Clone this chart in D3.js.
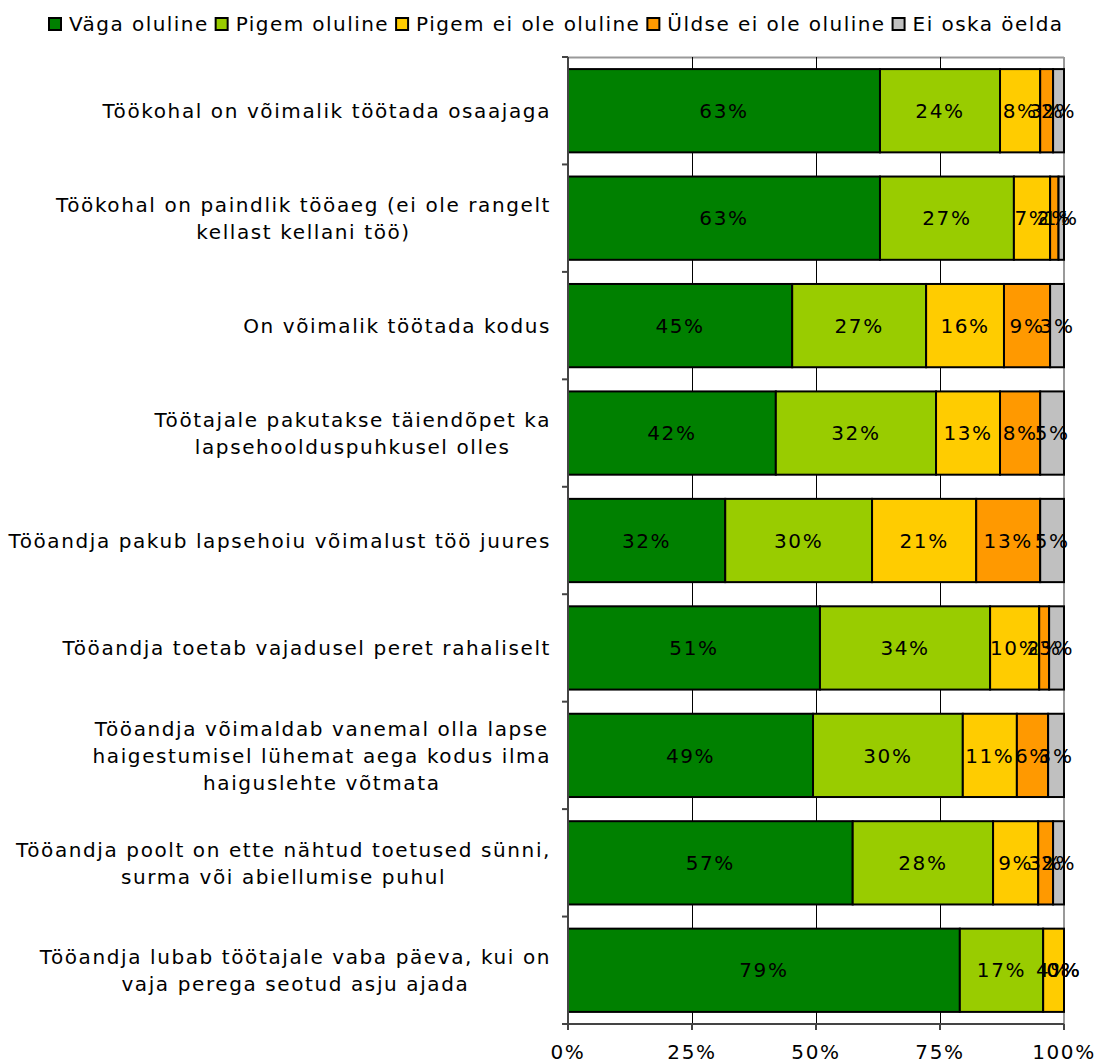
<!DOCTYPE html>
<html>
<head>
<meta charset="utf-8">
<script src="https://cdn.jsdelivr.net/npm/d3@7"></script>
<style>
  body { margin: 0; background: #fff; }
  svg { display: block; font-family: "DejaVu Sans", Verdana, sans-serif; }
  svg text { letter-spacing: 1.6px; }
  svg .legend text { letter-spacing: 1.45px; }
</style>
</head>
<body>
<svg id="chart" width="1099" height="1064"></svg>
<script>
// ------------------------------------------------------------
// data
// ------------------------------------------------------------
const categories = [
  ["Töökohal on võimalik töötada osaajaga"],
  ["Töökohal on paindlik tööaeg (ei ole rangelt", "kellast kellani töö)"],
  ["On võimalik töötada kodus"],
  ["Töötajale pakutakse täiendõpet ka", "lapsehoolduspuhkusel olles"],
  ["Tööandja pakub lapsehoiu võimalust töö juures"],
  ["Tööandja toetab vajadusel peret rahaliselt"],
  ["Tööandja võimaldab vanemal olla lapse", "haigestumisel lühemat aega kodus ilma", "haiguslehte võtmata"],
  ["Tööandja poolt on ette nähtud toetused sünni,", "surma või abiellumise puhul"],
  ["Tööandja lubab töötajale vaba päeva, kui on", "vaja perega seotud asju ajada"]
];
const seriesNames = ["Väga oluline", "Pigem oluline", "Pigem ei ole oluline", "Üldse ei ole oluline", "Ei oska öelda"];
const seriesColors = ["#008000", "#99CC00", "#FFCC00", "#FF9900", "#C0C0C0"];

// shares in %, one array per series (row order as categories)
const vagaOluline   = [62.9, 62.9, 45.2, 41.9, 31.7, 50.8, 49.4, 57.4, 79.0];
const pigemOluline  = [24.2, 27.0, 27.0, 32.3, 29.6, 34.3, 30.2, 28.3, 16.8];
const pigemEiOle    = [ 8.1,  7.3, 15.7, 12.9, 21.0,  9.9, 10.9,  9.1,  4.2];
const uldseEiOle    = [ 2.6,  1.7,  9.3,  8.1, 12.9,  2.0,  6.3,  3.0,  0.0];
const eiOska        = [ 2.2,  1.1,  2.8,  4.8,  4.8,  3.0,  3.2,  2.2,  0.0];
const seriesValues = [vagaOluline, pigemOluline, pigemEiOle, uldseEiOle, eiOska];

const xTicks = [0, 0.25, 0.5, 0.75, 1];

// ------------------------------------------------------------
// layout
// ------------------------------------------------------------
const svg = d3.select("#chart");
const plot = { left: 568, right: 1064, top: 57, bottom: 1024 };
const fontSize = 20;

const x = d3.scaleLinear().domain([0, 1]).range([plot.left, plot.right]);
const y = d3.scaleBand()
  .domain(d3.range(categories.length))
  .range([plot.top, plot.bottom])
  .paddingInner(0.225).paddingOuter(0.1125);

// rows -> stacked
const rows = categories.map((c, i) => {
  const r = { idx: i };
  seriesNames.forEach((s, k) => { r[s] = seriesValues[k][i] / 100; });
  return r;
});
const stacked = d3.stack().keys(seriesNames)(rows);

// plot frame (grey top & right)
svg.append("line").attr("x1", plot.left).attr("x2", plot.right)
  .attr("y1", plot.top + 0.5).attr("y2", plot.top + 0.5)
  .attr("stroke", "#999").attr("stroke-width", 2);
svg.append("line").attr("x1", plot.right).attr("x2", plot.right)
  .attr("y1", plot.top).attr("y2", plot.bottom)
  .attr("stroke", "#999").attr("stroke-width", 2);

// gridlines
svg.selectAll(".grid").data(xTicks.slice(1, -1)).join("line")
  .attr("class", "grid")
  .attr("x1", d => Math.round(x(d)) + 0.5).attr("x2", d => Math.round(x(d)) + 0.5)
  .attr("y1", plot.top).attr("y2", plot.bottom)
  .attr("stroke", "#000").attr("stroke-width", 1);

// bars
const layer = svg.selectAll("g.layer").data(stacked).join("g")
  .attr("class", "layer")
  .attr("fill", (d, i) => seriesColors[i]);

layer.selectAll("rect").data(d => d).join("rect")
  .attr("x", d => x(d[0]))
  .attr("y", d => y(d.data.idx))
  .attr("width", d => x(d[1]) - x(d[0]))
  .attr("height", y.bandwidth())
  .attr("stroke", "#000").attr("stroke-width", 2);

// segment labels
const pct = d3.format(".0%");
svg.selectAll("g.lbl").data(stacked).join("g")
  .attr("class", "lbl")
  .selectAll("text").data(d => d).join("text")
  .attr("x", d => (x(d[0]) + x(d[1])) / 2)
  .attr("y", d => y(d.data.idx) + y.bandwidth() / 2)
  .attr("dy", "0.36em")
  .attr("text-anchor", "middle")
  .style("font-size", fontSize + "px").style("fill", "#000")
  .text(d => pct(d[1] - d[0]));

// left axis
svg.append("line").attr("x1", plot.left).attr("x2", plot.left)
  .attr("y1", plot.top).attr("y2", plot.bottom + 5)
  .attr("stroke", "#444").attr("stroke-width", 2);
const bounds = d3.range(categories.length + 1).map(i => plot.top + i * (plot.bottom - plot.top) / categories.length);
svg.selectAll(".ytick").data(bounds).join("line")
  .attr("class", "ytick")
  .attr("x1", plot.left - 6).attr("x2", plot.left)
  .attr("y1", d => d).attr("y2", d => d)
  .attr("stroke", "#444").attr("stroke-width", 2);

// category labels (right aligned block, lines centred)
const labelRight = 551;
const lineH = 27;
categories.forEach((lines, i) => {
  const g = svg.append("g");
  const cy = y(i) + y.bandwidth() / 2;
  const texts = lines.map((t, j) => g.append("text")
    .attr("y", cy + (j - (lines.length - 1) / 2) * lineH)
    .attr("dy", "0.36em")
    .attr("text-anchor", "middle")
    .style("font-size", fontSize + "px").style("fill", "#000")
    .text(t));
  const maxW = d3.max(texts, t => t.node().getComputedTextLength());
  texts.forEach(t => t.attr("x", labelRight - maxW / 2));
});

// bottom axis
svg.append("line").attr("x1", plot.left - 6).attr("x2", plot.right)
  .attr("y1", plot.bottom).attr("y2", plot.bottom)
  .attr("stroke", "#444").attr("stroke-width", 2);
svg.selectAll(".xtick").data(xTicks).join("line")
  .attr("class", "xtick")
  .attr("x1", d => x(d)).attr("x2", d => x(d))
  .attr("y1", plot.bottom).attr("y2", plot.bottom + 6)
  .attr("stroke", "#444").attr("stroke-width", 2);
svg.selectAll(".xlbl").data(xTicks).join("text")
  .attr("class", "xlbl")
  .attr("x", d => x(d)).attr("y", 1052)
  .attr("dy", "0.36em")
  .attr("text-anchor", "middle")
  .style("font-size", fontSize + "px").style("fill", "#000")
  .text(d => pct(d));

// legend
const legend = svg.append("g").attr("class", "legend");
let lx = 49;
const ly = 24;
seriesNames.forEach((s, i) => {
  legend.append("rect")
    .attr("x", lx).attr("y", ly - 6).attr("width", 12).attr("height", 12)
    .attr("fill", seriesColors[i]).attr("stroke", "#000").attr("stroke-width", 2);
  const t = legend.append("text")
    .attr("x", lx + 20).attr("y", ly).attr("dy", "0.36em")
    .style("font-size", fontSize + "px").style("fill", "#000")
    .text(s);
  lx += 20 + t.node().getComputedTextLength() + 7;
});
</script>
</body>
</html>
